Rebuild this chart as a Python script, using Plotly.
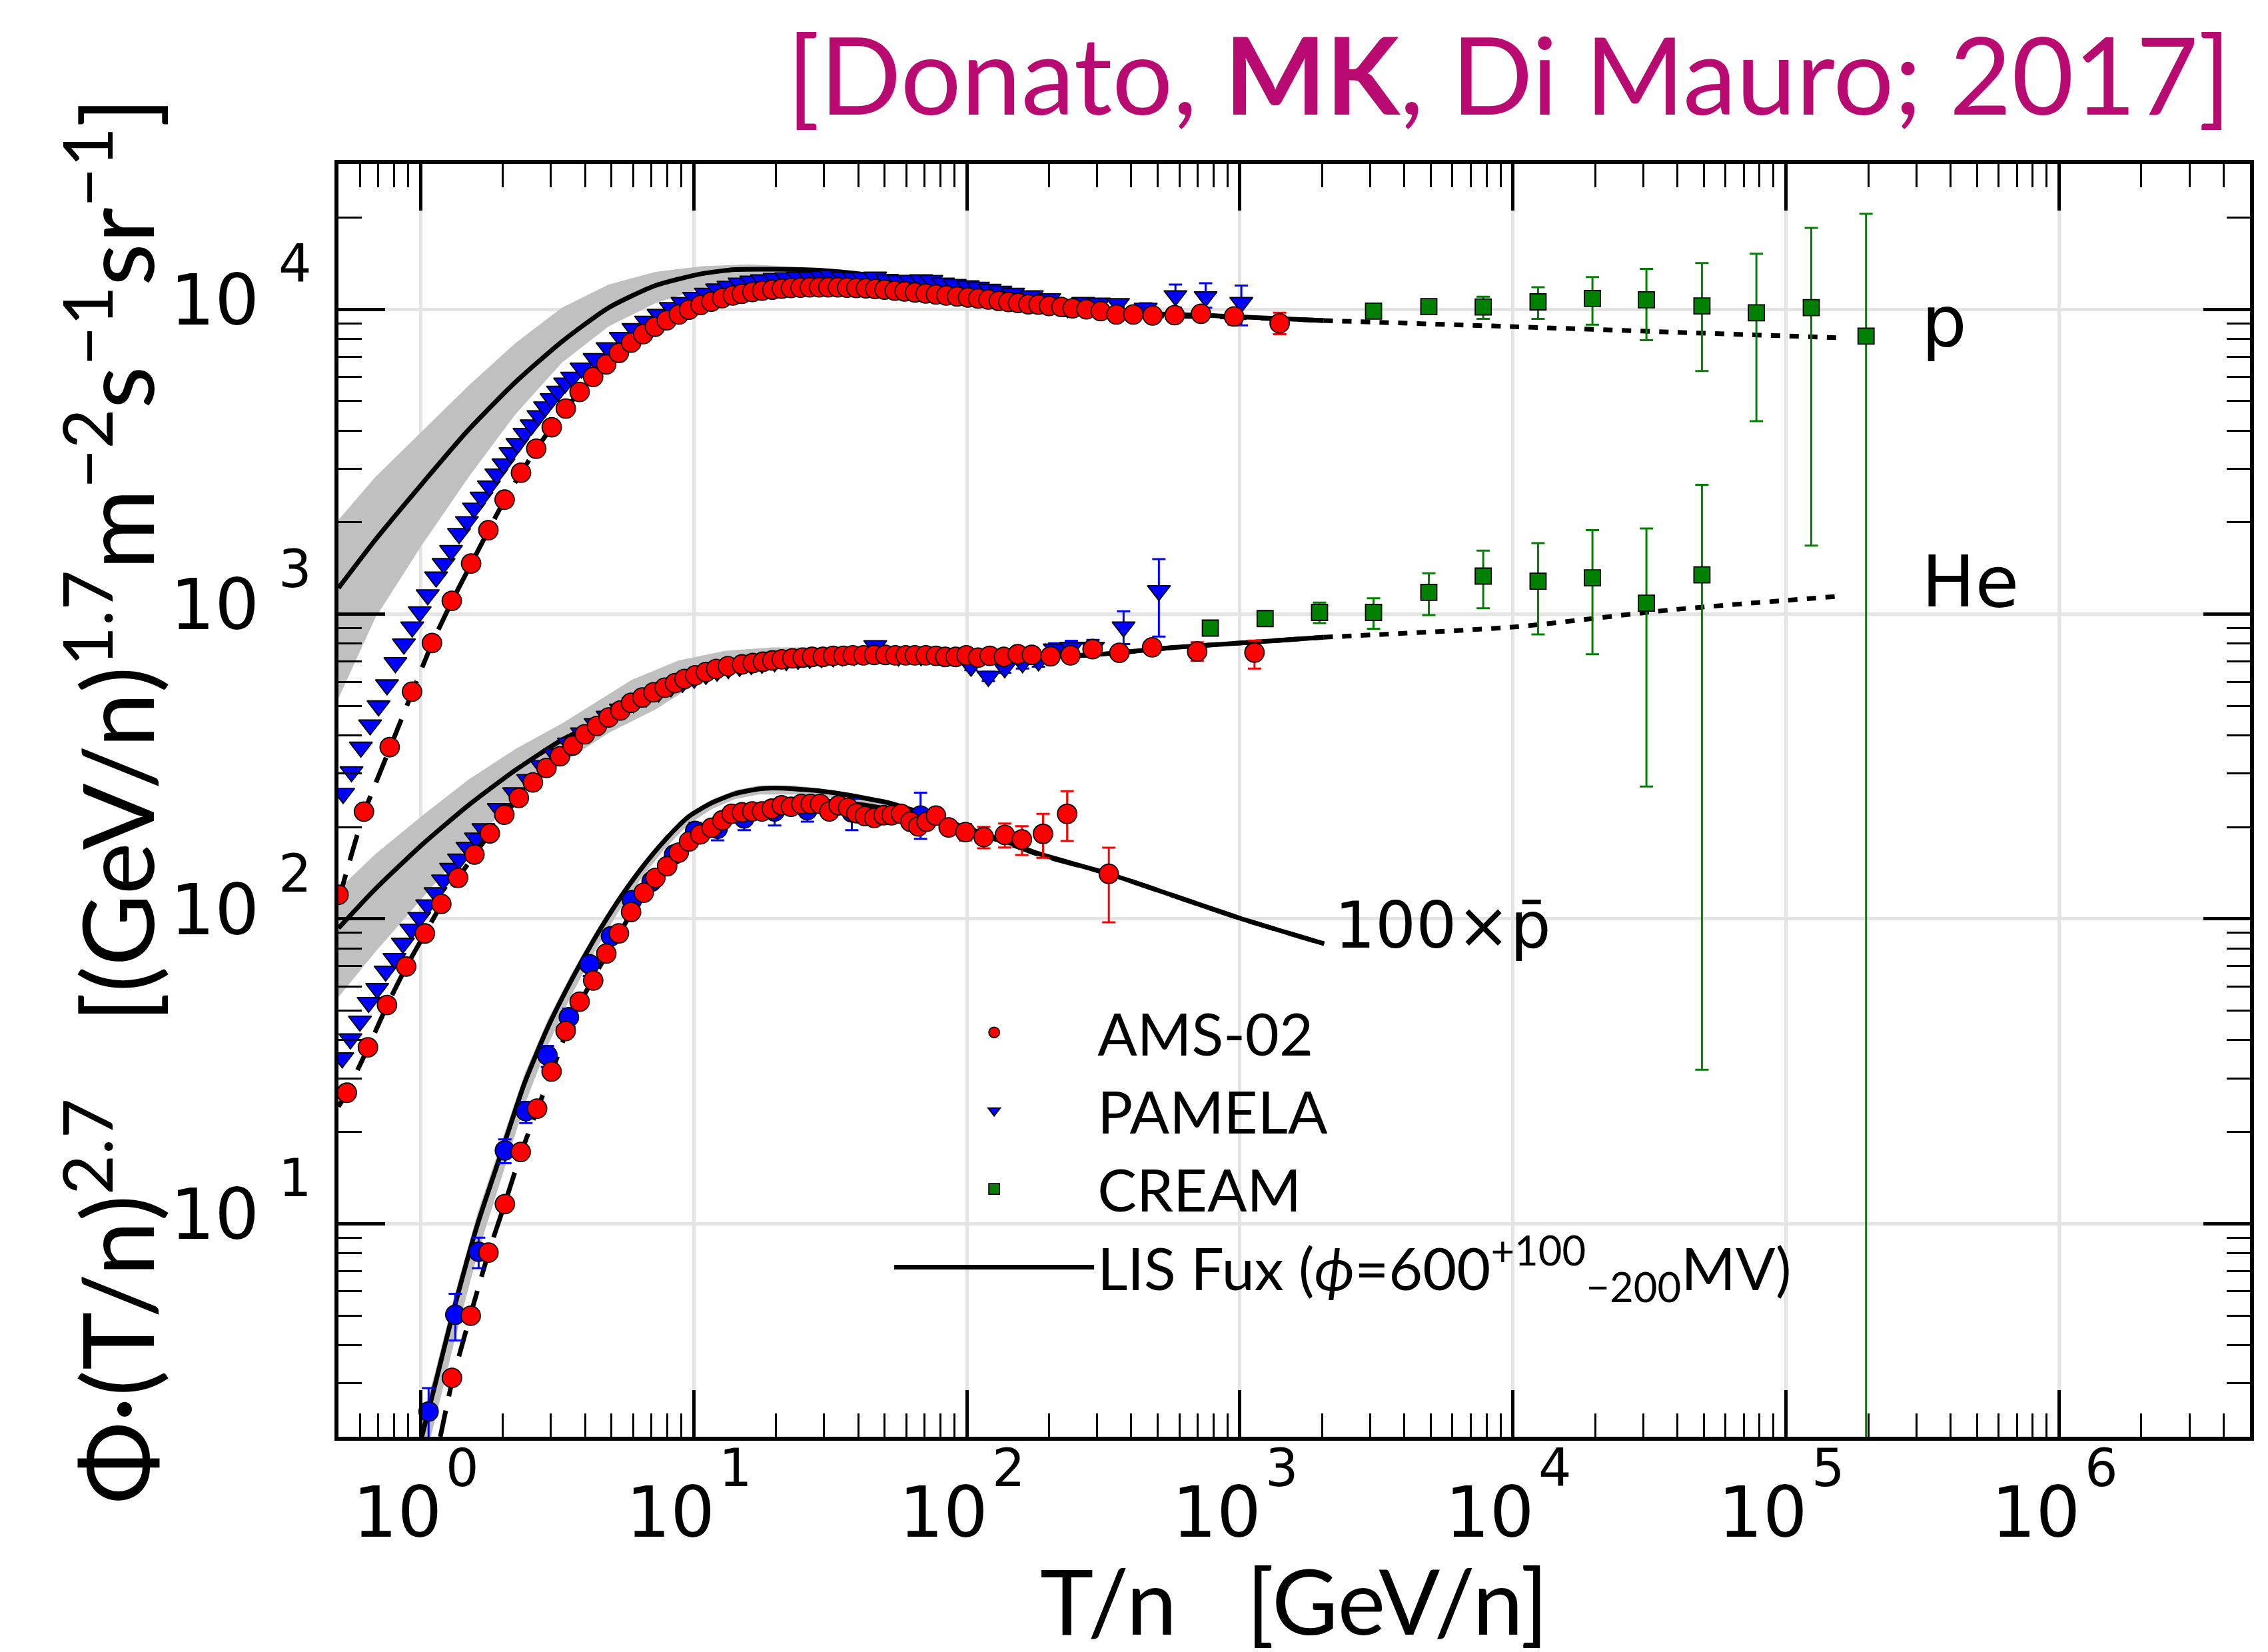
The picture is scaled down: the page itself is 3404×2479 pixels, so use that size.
import math
import plotly.graph_objects as go

# ---------------- data ----------------
# Protons
p_ams_x = [0.50, 0.62, 0.77, 0.93, 1.10, 1.30, 1.53, 1.77, 2.03, 2.33,
           2.65, 3.02, 3.40, 3.82, 4.28, 4.78, 5.32, 5.90, 6.53, 7.21,
           7.96, 8.82, 9.61, 10.6, 11.6, 12.7, 13.9, 15.0, 16.4, 17.8,
           19.4, 21.0, 22.7, 24.6, 26.6, 28.8, 31.1, 33.7, 36.4, 39.4,
           42.7, 46.2, 50.0, 54.5, 59.2, 64.6, 70.7, 77.1, 84.1, 92.1,
           101, 110, 120, 131, 142, 154, 168, 183, 200, 222,
           244, 274, 309, 353, 407, 479, 577, 720, 952, 1398]
p_ams_y = [120, 225, 366, 557, 804, 1106, 1466, 1886, 2375, 2910,
           3490, 4105, 4726, 5360, 6000, 6597, 7199, 7775, 8291, 8772,
           9211, 9622, 9975, 10340, 10607, 10884, 11110, 11250, 11400, 11514,
           11604, 11695, 11755, 11785, 11815, 11815, 11815, 11815, 11785, 11755,
           11725, 11665, 11604, 11514, 11455, 11367, 11280, 11193, 11110, 11025,
           10940, 10857, 10775, 10662, 10580, 10500, 10393, 10366, 10259, 10181,
           10077, 10000, 9872, 9622, 9622, 9548, 9572, 9672, 9476, 9000]
p_ams_eu = [0, 0, 0, 0, 0, 0, 0, 0, 0, 0,
            0, 0, 0, 0, 0, 0, 0, 0, 0, 0,
            0, 0, 0, 0, 0, 0, 0, 0, 0, 0,
            0, 0, 0, 0, 0, 0, 0, 0, 0, 0,
            0, 0, 0, 0, 0, 0, 0, 0, 0, 0,
            0, 0, 0, 0, 0, 0, 0, 0, 0, 0,
            0, 0, 0, 150, 250, 450, 430, 350, 524, 744]
p_ams_ed = [0, 0, 0, 0, 0, 0, 0, 0, 0, 0,
            0, 0, 0, 0, 0, 0, 0, 0, 0, 0,
            0, 0, 0, 0, 0, 0, 0, 0, 0, 0,
            0, 0, 0, 0, 0, 0, 0, 0, 0, 0,
            0, 0, 0, 0, 0, 0, 0, 0, 0, 0,
            0, 0, 0, 0, 0, 0, 0, 0, 0, 0,
            0, 0, 0, 150, 250, 360, 380, 450, 566, 710]

p_pam_x = [0.52, 0.558, 0.604, 0.653, 0.701, 0.753, 0.808, 0.868, 0.931, 0.992,
           1.061, 1.139, 1.213, 1.292, 1.382, 1.477, 1.567, 1.670, 1.778, 1.894,
           2.010, 2.133, 2.262, 2.400, 2.546, 2.701, 2.855, 3.016, 3.187, 3.381,
           3.588, 3.882, 4.335, 4.841, 5.406, 6.014, 6.688, 7.438, 8.246, 9.096,
           10.04, 11.08, 12.18, 13.39, 14.72, 16.24, 17.78, 19.78, 21.83, 24.09,
           26.6, 29.35, 31.75, 35.04, 38.67, 41.84, 46.17, 50.96, 56.23, 62.06,
           67.97, 74.13, 81.8, 90.3, 100.8, 109.9, 121.3, 132.8, 147.7, 173,
           200.3, 233.7, 266.8, 304.7, 357.9, 451.9, 580.8, 749.0, 1012]
p_pam_y = [258, 304, 366, 433, 500, 586, 693, 798, 907, 1018,
           1157, 1323, 1466, 1616, 1838, 2011, 2227, 2418, 2633, 2880,
           3111, 3384, 3627, 3919, 4178, 4478, 4786, 5092, 5387, 5730,
           5984, 6414, 6892, 7482, 8082, 8641, 9142, 9622, 10129, 10527,
           10940, 11283, 11666, 11908, 12186, 12375, 12503, 12632, 12697, 12762,
           12762, 12827, 12926, 12762, 12697, 12697, 12762, 12534, 12440, 12440,
           12503, 12440, 12186, 12063, 11940, 11815, 11634, 11457, 11283, 11082,
           10830, 10129, 10527, 10474, 10447, 10077, 11082, 10999, 10527]
p_pam_eu = [0, 0, 0, 0, 0, 0, 0, 0, 0, 0,
            0, 0, 0, 0, 0, 0, 0, 0, 0, 0,
            0, 0, 0, 0, 0, 0, 0, 0, 0, 0,
            0, 0, 0, 0, 0, 0, 0, 0, 0, 0,
            0, 0, 0, 0, 0, 0, 0, 0, 0, 0,
            0, 0, 0, 0, 0, 0, 0, 0, 0, 0,
            0, 0, 0, 0, 0, 0, 0, 0, 0, 0,
            150, 200, 250, 250, 300, 400, 981, 1187, 1441]
p_pam_ed = [0, 0, 0, 0, 0, 0, 0, 0, 0, 0,
            0, 0, 0, 0, 0, 0, 0, 0, 0, 0,
            0, 0, 0, 0, 0, 0, 0, 0, 0, 0,
            0, 0, 0, 0, 0, 0, 0, 0, 0, 0,
            0, 0, 0, 0, 0, 0, 0, 0, 0, 0,
            0, 0, 0, 0, 0, 0, 0, 0, 0, 0,
            0, 0, 0, 0, 0, 0, 0, 0, 0, 0,
            150, 628, 250, 250, 300, 400, 953, 870, 1664]

p_cre_x = [3086, 4918, 7780, 12355, 19544, 30810, 49200, 77870, 123700, 196300]
p_cre_y = [9872, 10207, 10181, 10580, 10857, 10745, 10259, 9747, 10127, 8167]
p_cre_eu = [150, 150, 815, 1235, 1905, 2831, 3931, 5473, 8383, 12423]
p_cre_ed = [150, 150, 874, 1273, 1947, 2825, 3980, 5449, 8448, 8166]

# Helium
he_ams_x = [0.5365, 0.641, 0.753, 0.885, 1.036, 1.190, 1.371, 1.574, 1.792, 2.025,
            2.289, 2.576, 2.888, 3.237, 3.602, 3.990, 4.422, 4.880, 5.385, 5.895,
            6.48, 7.12, 7.83, 8.54, 9.24, 10.12, 11.08, 12.08, 13.34, 15.01,
            16.44, 17.92, 19.4, 20.99, 22.97, 25.06, 27.12, 29.69, 32.38, 35.32,
            38.21, 41.84, 45.81, 50.36, 54.7, 59.7, 64.5, 70.7, 77.1, 83.4,
            91.0, 99.6, 109.9, 121.3, 136.6, 153.7, 173, 202.5, 239.6, 288.7,
            361.9, 477, 697.5, 1131]
he_ams_y = [26.9, 37.9, 52.2, 69.8, 89.6, 112, 136.4, 162.7, 190.9, 219.8,
            249.5, 280.3, 312.8, 341.7, 370.6, 403.3, 429.8, 458, 482.9, 511.7,
            533, 554, 574, 594, 613, 630, 646, 661, 675, 684,
            691, 698, 705, 711, 716, 720, 724, 724, 730, 730,
            733, 733, 735, 735, 733, 733, 733, 733, 730, 724,
            724, 733, 720, 730, 724, 739, 735, 727.5, 733, 768,
            746.5, 778, 754, 748]
he_ams_eu = [0, 0, 0, 0, 0, 0, 0, 0, 0, 0,
             0, 0, 0, 0, 0, 0, 0, 0, 0, 0,
             0, 0, 0, 0, 0, 0, 0, 0, 0, 0,
             0, 0, 0, 0, 0, 0, 0, 0, 0, 0,
             0, 0, 0, 0, 0, 0, 0, 0, 0, 0,
             0, 0, 0, 0, 0, 0, 0, 10, 12, 20,
             25, 30, 55, 71]
he_ams_ed = [0, 0, 0, 0, 0, 0, 0, 0, 0, 0,
             0, 0, 0, 0, 0, 0, 0, 0, 0, 0,
             0, 0, 0, 0, 0, 0, 0, 0, 0, 0,
             0, 0, 0, 0, 0, 0, 0, 0, 0, 0,
             0, 0, 0, 0, 0, 0, 0, 0, 0, 0,
             0, 0, 0, 0, 0, 0, 0, 10, 12, 20,
             25, 30, 51, 85]

he_pam_x = [0.516, 0.553, 0.599, 0.645, 0.693, 0.744, 0.802, 0.861, 0.924, 0.988,
            1.057, 1.134, 1.208, 1.292, 1.382, 1.483, 1.593, 1.696, 1.932, 2.200,
            2.476, 2.777, 3.100, 3.490, 3.898, 4.37, 4.84, 5.41, 6.01, 6.69,
            7.44, 8.25, 9.10, 10.04, 11.08, 12.18, 13.39, 14.72, 16.24, 17.78,
            19.78, 21.83, 24.09, 26.6, 29.35, 32.4, 35.0, 38.7, 46.2, 56.2,
            67.97, 81.8, 103.6, 119.9, 137.6, 159.9, 183, 210, 241.4, 289.7,
            375, 505]
he_pam_y = [35.0, 40.4, 46.2, 53.2, 59.1, 67.4, 74.1, 83.2, 92.5, 101.1,
            111.2, 121.9, 134.1, 146.4, 157.1, 171.7, 184.2, 197.7, 230.1, 259.4,
            286.4, 318.4, 347.7, 377.3, 407.6, 437.4, 462, 488, 512, 534,
            555, 577, 597, 616, 634, 650, 663, 674, 683, 690,
            698, 704, 710, 716, 720, 724, 728, 731, 788, 728,
            730, 726, 675, 625, 667, 693, 702, 768, 778, 778,
            907, 1194]
he_pam_eu = [0, 0, 0, 0, 0, 0, 0, 0, 0, 0,
             0, 0, 0, 0, 0, 0, 0, 0, 0, 0,
             0, 0, 0, 0, 0, 0, 0, 0, 0, 0,
             0, 0, 0, 0, 0, 0, 0, 0, 0, 0,
             0, 0, 0, 0, 0, 0, 0, 0, 25, 15,
             15, 20, 20, 22, 25, 30, 30, 35, 40, 45,
             115, 321]
he_pam_ed = [0, 0, 0, 0, 0, 0, 0, 0, 0, 0,
             0, 0, 0, 0, 0, 0, 0, 0, 0, 0,
             0, 0, 0, 0, 0, 0, 0, 0, 0, 0,
             0, 0, 0, 0, 0, 0, 0, 0, 0, 0,
             0, 0, 0, 0, 0, 0, 0, 0, 25, 15,
             15, 20, 20, 22, 25, 30, 30, 35, 40, 45,
             109, 350]

he_cre_x = [779.3, 1237, 1957, 3086, 4918, 7780, 12355, 19544, 30810, 49200]
he_cre_y = [900, 967, 1013, 1013, 1179, 1333, 1283, 1316, 1086, 1345]
he_cre_eu = [15, 15, 78, 115, 182, 283, 427, 570, 824, 1311]
he_cre_ed = [15, 15, 78, 117, 186, 288, 425, 577, 814, 1313]

# Antiprotons (x100)
pb_ams_x = [1.302, 1.525, 1.771, 2.034, 2.325, 2.669, 3.016, 3.395, 3.821, 4.283,
            4.784, 5.321, 5.895, 6.559, 7.237, 7.989, 8.815, 9.614, 10.57, 11.62,
            12.72, 13.76, 15.01, 16.37, 17.78, 19.3, 20.99, 22.71, 24.77, 26.8,
            29.0, 31.38, 33.95, 36.74, 39.44, 42.34, 45.81, 49.57, 53.0, 57.4,
            62.1, 66.4, 71.2, 77.1, 85.8, 98.8, 115.3, 137.8, 159.1, 190.1,
            233.0, 331.1]
pb_ams_y = [3.12, 4.99, 8.04, 11.6, 17.2, 23.85, 31.6, 42.9, 53.5, 62.8,
            77.0, 89.7, 105.4, 121.9, 136.4, 149, 165.1, 179.7, 189.5, 199.1,
            210.6, 221.3, 223.7, 225.3, 225.3, 230, 235.9, 233.3, 238.4, 238.4,
            238.4, 225.3, 235.9, 231.7, 222.1, 217.4, 214.4, 219, 219, 221.3,
            208.4, 201.2, 208.4, 218.2, 199.7, 192.8, 185.5, 188.6, 182.3, 190.2,
            221.2, 140.6]
pb_ams_eu = [0.15, 0.2, 0.3, 0.4, 0.5, 0.6, 0.8, 1.0, 1.2, 1.4,
             1.6, 1.8, 2.0, 2.3, 2.5, 2.8, 3.0, 3.3, 3.5, 3.7,
             3.9, 4.1, 4.3, 4.5, 4.7, 5, 5.3, 5.5, 5.8, 6,
             6.2, 6.4, 6.6, 6.8, 7, 7.2, 7.5, 7.8, 8, 8.3,
             8.6, 9, 9.3, 9.7, 10, 12, 15, 17, 19.3, 31,
             41.2, 30.8]
pb_ams_ed = [0.15, 0.2, 0.3, 0.4, 0.5, 0.6, 0.8, 1.0, 1.2, 1.4,
             1.6, 1.8, 2.0, 2.3, 2.5, 2.8, 3.0, 3.3, 3.5, 3.7,
             3.9, 4.1, 4.3, 4.5, 4.7, 5, 5.3, 5.5, 5.8, 6,
             6.2, 6.4, 6.6, 6.8, 7, 7.2, 7.5, 7.8, 8, 8.3,
             8.6, 9, 9.3, 9.7, 10, 12, 15, 17, 20.2, 31.6,
             41.1, 43.1]

pb_pam_x = [1.069, 1.339, 1.630, 2.034, 2.428, 2.911, 3.490, 4.152, 4.977, 5.942,
            7.014, 8.476, 10.12, 12.23, 15.30, 19.78, 26.07, 37.92, 67.7]
pb_pam_y = [2.42, 5.03, 8.09, 17.4, 23.4, 35.7, 47.6, 71.0, 87.8, 115.2,
            132.7, 162.7, 194.3, 197.7, 213.6, 225.3, 227.7, 223.7, 218.2]
pb_pam_eu = [0.47, 0.86, 0.91, 1.5, 1.7, 2.6, 3.2, 3.8, 4.7, 5,
             6, 8, 12.7, 14.3, 11.4, 19.0, 16.6, 24.1, 41.2]
pb_pam_ed = [0.8, 0.89, 0.94, 1.6, 2.0, 3.0, 3.5, 6.0, 4.6, 5,
             6, 8, 13.3, 16.7, 18.0, 22.7, 19.3, 28.1, 35.0]

# LIS curves (solid), extrapolations (dotted), modulated (dashed), bands
p_lis_x = [0.5, 0.68, 1.008, 1.495, 2.218, 3.289, 4.88, 7.237, 10.74, 14.15,
           19.4, 28.77, 42.67, 63.3, 93.9, 169.6, 402.9, 825.2, 2023]
p_lis_y = [1218, 1746, 2667, 4020, 5758, 7836, 10129, 11967, 13094, 13502,
           13541, 13436, 12993, 12280, 11514, 10580, 9747, 9525, 9189]
p_ext_x = [2023, 10140, 37930, 158500]
p_ext_y = [9189, 8772, 8421, 8066]
p_band_x = [0.5, 0.68, 1.008, 1.495, 2.218, 3.289, 4.88, 7.237, 10.74, 15.93, 23.62, 35.04, 63.3]
p_band_hi = [2037, 2807, 3970, 5614, 7736, 10129, 12063, 13264, 13856, 14036, 13786, 13366, 12310]
p_band_lo = [529, 967, 1680, 2807, 4512, 6683, 8797, 10474, 11725, 12503, 12993, 13229, 12250]
p_mod_x = [0.5, 0.62, 0.77, 0.93, 1.1, 1.3, 1.53, 1.77, 2.03, 2.33, 2.65, 3.02, 3.4,
           3.82, 4.28, 4.78, 5.32, 5.9, 6.53, 7.21, 7.96, 8.82, 9.61, 11.6, 13.9,
           17.8, 22.7, 28.8, 39.4, 54.5, 77.1, 101, 154, 200, 309, 479, 952, 2023]
p_mod_y = [115, 222, 362, 552, 800, 1100, 1460, 1880, 2370, 2905, 3485, 4100, 4720,
           5355, 5995, 6590, 7195, 7770, 8290, 8770, 9210, 9620, 9975, 10600, 11100,
           11510, 11750, 11810, 11750, 11510, 11190, 10940, 10500, 10260, 9870, 9550, 9420, 9189]

he_lis_x = [0.5, 0.68, 1.008, 1.495, 2.218, 3.289, 4.88, 7.237, 10.74, 15.93,
            23.62, 35.04, 50, 100, 281.6, 576.6, 1181, 2023]
he_lis_y = [93.2, 125, 174.7, 235.9, 307.3, 386.6, 461.3, 586, 666.6, 714,
            742, 754, 752, 738, 735, 778, 812, 840]
he_ext_x = [2023, 10140, 37930, 158500]
he_ext_y = [840, 908, 1033, 1146]
he_band_hi_x = [0.5, 0.68, 1.008, 1.495, 2.218, 3.289, 5.94, 8.815, 13.07, 19.4, 28.77, 42.7]
he_band_hi = [125, 162.7, 217.4, 286.4, 360.3, 437.4, 609, 705, 758, 778, 778, 768]
he_band_lo_x = [0.5, 0.68, 1.008, 1.495, 2.218, 3.289, 4.88, 7.237, 10.74, 15.93, 23.62, 35.04, 51.6]
he_band_lo = [55.4, 77.6, 116.4, 174.7, 244.3, 324, 407.6, 486.2, 609, 675, 720, 739, 746]
he_mod_x = [0.5, 0.5365, 0.641, 0.753, 0.885, 1.036, 1.19, 1.371, 1.574, 1.792, 2.025,
            2.289, 2.576, 2.888, 3.237, 3.602, 3.99, 4.422, 4.88, 5.385, 5.895, 7.12,
            8.54, 10.12, 12.08, 15.01, 19.4, 25.06, 35.32, 50.36, 100, 281.6, 576.6, 1181, 2023]
he_mod_y = [24.2, 27.0, 37.7, 52, 69.6, 89.4, 111.5, 136, 162.5, 190.5, 219.5,
            249, 280, 312, 341, 370, 402, 429, 456, 481, 508, 552,
            592, 627, 658, 682, 703, 718, 728, 733, 733, 733, 778, 812, 840]

pb_lis_x = [1.008, 1.134, 1.328, 1.618, 1.970, 2.400, 2.923, 3.559, 4.335, 5.280,
            6.431, 7.830, 9.539, 11.62, 14.15, 17.23, 19.4, 23.62, 28.77, 35.04,
            42.67, 51.97, 63.3, 77.1, 93.9, 114.3, 139.3, 182.1, 331.1, 1001, 2036]
pb_lis_y = [1.99, 3.01, 5.30, 10.0, 17.0, 28.9, 44.1, 62.8, 86.2, 114.4,
            146.4, 181, 216, 240.1, 257.6, 266.9, 268.8, 266.9, 263.1, 256.7,
            248.7, 240.1, 227.7, 216, 202.6, 190.9, 179.7, 164, 140.6, 100.5, 82.9]
pb_band_x = [1.0, 1.134, 1.328, 1.618, 1.970, 2.400, 2.923, 3.559, 4.335, 5.280, 6.431,
             7.830, 9.539, 11.62, 14.15, 17.23, 23.62, 35.04, 51.97, 77.1, 114.3, 182.1]
pb_band_hi = [2.2, 3.3, 5.8, 10.9, 18.4, 31.0, 46.8, 66.0, 89.8, 118.5, 151,
              186, 221, 246, 264, 274, 274, 262, 245, 220, 194, 166]
pb_band_lo = [1.5, 2.3, 4.1, 8.0, 14.0, 24.5, 38.5, 56.0, 78.0, 105, 136,
              170, 204, 229, 247, 256, 256, 247, 232, 210, 186, 161]
pb_mod_x = [1.18, 1.30, 1.52, 1.77, 2.03, 2.33, 2.67, 3.02, 3.40, 3.82, 4.28, 4.78, 5.32,
            5.90, 6.56, 7.24, 7.99, 8.82, 9.61, 10.6, 11.6, 13.8, 16.4, 19.4, 23.6, 28.8,
            35.0, 42.7, 52.0, 63.3, 77.1, 93.9, 114, 139, 182, 331, 1001, 2036]
pb_mod_y = [2.0, 3.0, 5.0, 8.0, 11.6, 17.0, 23.7, 31.4, 42.0, 52.8, 63.5, 76.2, 89.3,
            104, 120, 135, 149, 164, 177, 190, 201, 219, 233, 242, 246, 245,
            241, 236, 229, 221, 210, 198, 188, 178, 163, 140.6, 100.5, 82.9]

# axes / labels
x_tick_vals = [1, 10, 100, 1000, 10000, 100000, 1000000]
x_tick_exp = ["0", "1", "2", "3", "4", "5", "6"]
y_tick_vals = [10, 100, 1000, 10000]
y_tick_exp = ["1", "2", "3", "4"]
tick_base = "10"

# ---------------- styles ----------------
RED, BLUE, GREEN = "#ff0000", "#0000ff", "#008000"
BAND = "rgb(192,192,192)"
TICKFONT = "DejaVu Sans"
TXTFONT = "Lato"

fig = go.Figure()


def band(xh, yh, xl, yl):
    fig.add_trace(go.Scatter(
        x=list(xh) + list(xl)[::-1], y=list(yh) + list(yl)[::-1],
        mode="lines", fill="toself", fillcolor=BAND, line=dict(width=0),
        showlegend=False, hoverinfo="skip"))


def curve(x, y, dash="solid", name=None, show=False, rank=None):
    fig.add_trace(go.Scatter(
        x=x, y=y, mode="lines", line=dict(color="black", width=7, dash=dash, shape="spline", smoothing=0.6),
        name=name, showlegend=show, legendrank=rank, hoverinfo="skip"))


def points(x, y, eu, ed, color, symbol, size, name=None, show=False, rank=None):
    fig.add_trace(go.Scatter(
        x=x, y=y, mode="markers", name=name, showlegend=show, legendrank=rank,
        marker=dict(color=color, symbol=symbol, size=size, line=dict(color="black", width=1.8)),
        error_y=dict(type="data", symmetric=False, array=eu, arrayminus=ed,
                     color=color, thickness=3, width=10),
        hoverinfo="skip"))


band(p_band_x, p_band_hi, p_band_x, p_band_lo)
band(he_band_hi_x, he_band_hi, he_band_lo_x, he_band_lo)
band(pb_band_x, pb_band_hi, pb_band_x, pb_band_lo)

curve(p_mod_x, p_mod_y, dash="40px,22px")
curve(he_mod_x, he_mod_y, dash="40px,22px")
curve(pb_mod_x, pb_mod_y, dash="40px,22px")
curve(p_lis_x, p_lis_y, name="LIS Fux (<i>ϕ</i>=600<sup>+100</sup><sub>−200</sub>MV)", show=True, rank=4)
curve(he_lis_x, he_lis_y)
curve(pb_lis_x, pb_lis_y)
curve(p_ext_x, p_ext_y, dash="14px,14px")
curve(he_ext_x, he_ext_y, dash="14px,14px")

points(p_cre_x, p_cre_y, p_cre_eu, p_cre_ed, GREEN, "square", 24, name="CREAM", show=True, rank=3)
points(he_cre_x, he_cre_y, he_cre_eu, he_cre_ed, GREEN, "square", 24)
points(p_pam_x, p_pam_y, p_pam_eu, p_pam_ed, BLUE, "triangle-down", 30, name="PAMELA", show=True, rank=2)
points(he_pam_x, he_pam_y, he_pam_eu, he_pam_ed, BLUE, "triangle-down", 30)
points(pb_pam_x, pb_pam_y, pb_pam_eu, pb_pam_ed, BLUE, "circle", 29)
points(p_ams_x, p_ams_y, p_ams_eu, p_ams_ed, RED, "circle", 29, name="AMS-02", show=True, rank=1)
points(he_ams_x, he_ams_y, he_ams_eu, he_ams_ed, RED, "circle", 29)
points(pb_ams_x, pb_ams_y, pb_ams_eu, pb_ams_ed, RED, "circle", 29)

annotations = []
# tick exponents
for v, e in zip(x_tick_vals, x_tick_exp):
    annotations.append(dict(x=math.log10(v), xref="x", y=0, yref="paper", text=e,
                            showarrow=False, xanchor="center", yanchor="middle",
                            xshift=63, yshift=-47,
                            font=dict(family=TICKFONT, size=78, color="black")))
for v, e in zip(y_tick_vals, y_tick_exp):
    annotations.append(dict(x=0, xref="paper", y=math.log10(v), yref="y", text=e,
                            showarrow=False, xanchor="center", yanchor="middle",
                            xshift=-65, yshift=68,
                            font=dict(family=TICKFONT, size=78, color="black")))
# species labels
annotations.append(dict(x=math.log10(3.1e5), xref="x", y=math.log10(9080), yref="y", text="p",
                        showarrow=False, xanchor="left", yanchor="middle",
                        font=dict(family=TICKFONT, size=107, color="black")))
annotations.append(dict(x=math.log10(3.1e5), xref="x", y=math.log10(1277), yref="y", text="He",
                        showarrow=False, xanchor="left", yanchor="middle",
                        font=dict(family=TICKFONT, size=107, color="black")))
annotations.append(dict(x=math.log10(2200), xref="x", y=math.log10(95), yref="y",
                        text="100\u00d7p\u0304",
                        showarrow=False, xanchor="left", yanchor="middle",
                        font=dict(family=TICKFONT, size=96, color="black")))
# title
annotations.append(dict(x=0.991, xref="paper", y=1.0714, yref="paper",
                        text="[Donato, <b>MK</b>, Di Mauro; 2017]",
                        showarrow=False, xanchor="right", yanchor="middle",
                        font=dict(family=TXTFONT, size=161, color="#B80A70")))
# axis titles
annotations.append(dict(x=0.5, xref="paper", y=-0.128, yref="paper",
                        text="T/n   [GeV/n]", showarrow=False,
                        xanchor="center", yanchor="middle",
                        font=dict(family=TXTFONT, size=136, color="black")))
annotations.append(dict(x=-0.1195, xref="paper", y=0.4995, yref="paper",
                        text="Φ·(T/n)<sup>2.7</sup>   [(GeV/n)<sup>1.7</sup>m<sup>−2</sup>s<sup>−1</sup>sr<sup>−1</sup>]",
                        textangle=-90, showarrow=False,
                        xanchor="center", yanchor="middle",
                        font=dict(family=TXTFONT, size=148, color="black")))

axis_common = dict(
    type="log", showline=True, linewidth=6, linecolor="black", mirror="allticks",
    ticks="inside", ticklen=70, tickwidth=5, tickcolor="black",
    showgrid=True, gridcolor="#e4e4e4", gridwidth=5, zeroline=False,
    minor=dict(ticks="inside", ticklen=35, tickwidth=3, tickcolor="black", showgrid=False, dtick="D1"),
    tickfont=dict(family=TICKFONT, size=105, color="black"),
)

fig.update_layout(
    width=3404, height=2479,
    margin=dict(l=500, r=35, t=238, b=331),
    paper_bgcolor="white", plot_bgcolor="white",
    xaxis=dict(axis_common, range=[math.log10(0.5), math.log10(5e6)],
               tickmode="array", tickvals=x_tick_vals, ticktext=[tick_base for _ in x_tick_vals],
               ticklabelstandoff=18, ticklabelshift=-35),
    yaxis=dict(axis_common, range=[math.log10(2), math.log10(3e4)],
               tickmode="array", tickvals=y_tick_vals, ticktext=[tick_base for _ in y_tick_vals],
               ticklabelstandoff=92, ticklabelshift=-14),
    legend=dict(x=0.289, y=0.351, xanchor="left", yanchor="top",
                bgcolor="rgba(0,0,0,0)", borderwidth=0, itemwidth=300,
                font=dict(family=TXTFONT, size=88, color="black"),
                tracegroupgap=10, traceorder="normal"),
    annotations=annotations,
    showlegend=True,
)

fig.write_html("out.html")
